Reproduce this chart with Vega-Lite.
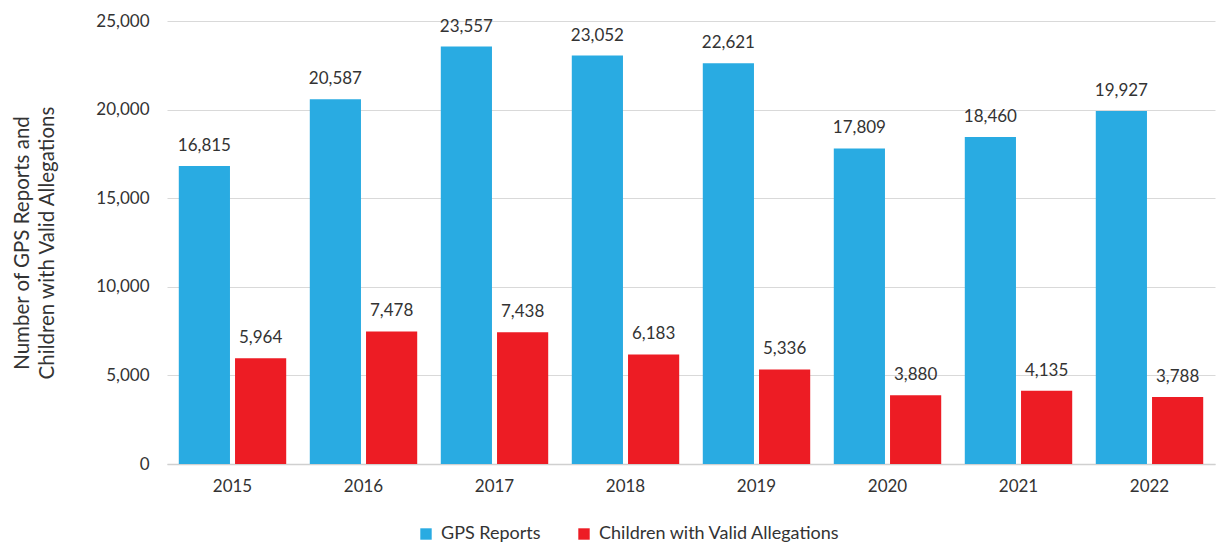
{
  "$schema": "https://vega.github.io/schema/vega-lite/v6.json",
  "width": 1048,
  "height": 443,
  "autosize": {"type": "none"},
  "padding": {"left": 167, "top": 21, "right": 7, "bottom": 81},
  "background": "white",
  "config": {
    "font": "Lato",
    "view": {"stroke": null},
    "axis": {"labelFont": "Lato", "titleFont": "Lato", "labelColor": "#333333", "titleColor": "#333333"},
    "legend": {"labelFont": "Lato"}
  },
  "data": {
    "values": [
      {"year": "2015", "series": "GPS Reports", "value": 16815},
      {"year": "2015", "series": "Children with Valid Allegations", "value": 5964},
      {"year": "2016", "series": "GPS Reports", "value": 20587},
      {"year": "2016", "series": "Children with Valid Allegations", "value": 7478},
      {"year": "2017", "series": "GPS Reports", "value": 23557},
      {"year": "2017", "series": "Children with Valid Allegations", "value": 7438},
      {"year": "2018", "series": "GPS Reports", "value": 23052},
      {"year": "2018", "series": "Children with Valid Allegations", "value": 6183},
      {"year": "2019", "series": "GPS Reports", "value": 22621},
      {"year": "2019", "series": "Children with Valid Allegations", "value": 5336},
      {"year": "2020", "series": "GPS Reports", "value": 17809},
      {"year": "2020", "series": "Children with Valid Allegations", "value": 3880},
      {"year": "2021", "series": "GPS Reports", "value": 18460},
      {"year": "2021", "series": "Children with Valid Allegations", "value": 4135},
      {"year": "2022", "series": "GPS Reports", "value": 19927},
      {"year": "2022", "series": "Children with Valid Allegations", "value": 3788}
    ]
  },
  "encoding": {
    "x": {
      "field": "year",
      "type": "nominal",
      "scale": {"paddingInner": 0.18, "paddingOuter": 0.09},
      "axis": {
        "title": null,
        "labelAngle": 0,
        "labelFontSize": 17,
        "labelPadding": 14,
        "ticks": false,
        "domainColor": "#d0d0d0",
        "domainWidth": 1.5
      }
    },
    "xOffset": {
      "field": "series",
      "type": "nominal",
      "sort": ["GPS Reports", "Children with Valid Allegations"],
      "scale": {"paddingInner": 0.09, "paddingOuter": 0}
    },
    "y": {
      "field": "value",
      "type": "quantitative",
      "scale": {"domain": [0, 25000], "nice": false},
      "axis": {
        "values": [0, 5000, 10000, 15000, 20000, 25000],
        "format": ",d",
        "labelFontSize": 17,
        "labelPadding": 18,
        "ticks": false,
        "domain": false,
        "gridColor": "#d9d9d9",
        "gridWidth": 1.2,
        "title": ["Number of GPS Reports and", "Children with Valid Allegations"],
        "titleFontSize": 20.5,
        "titleFontWeight": "normal",
        "titlePadding": 38,
        "titleLineHeight": 25
      }
    }
  },
  "layer": [
    {
      "mark": {"type": "bar"},
      "encoding": {
        "color": {
          "field": "series",
          "type": "nominal",
          "scale": {"domain": ["GPS Reports", "Children with Valid Allegations"], "range": ["#29ABE2", "#ED1C24"]},
          "legend": {
            "title": null,
            "orient": "none",
            "direction": "horizontal",
            "legendX": 250,
            "legendY": 504,
            "symbolType": "square",
            "symbolSize": 130,
            "symbolStrokeWidth": 0,
            "labelFontSize": 18,
            "labelColor": "#333333",
            "labelLimit": 0,
            "columnPadding": 34,
            "labelOffset": 6
          }
        }
      }
    },
    {
      "mark": {"type": "text", "baseline": "bottom", "dy": -11, "fontSize": 17, "color": "#333333"},
      "encoding": {
        "text": {"field": "value", "type": "quantitative", "format": ",d"}
      }
    }
  ]
}
